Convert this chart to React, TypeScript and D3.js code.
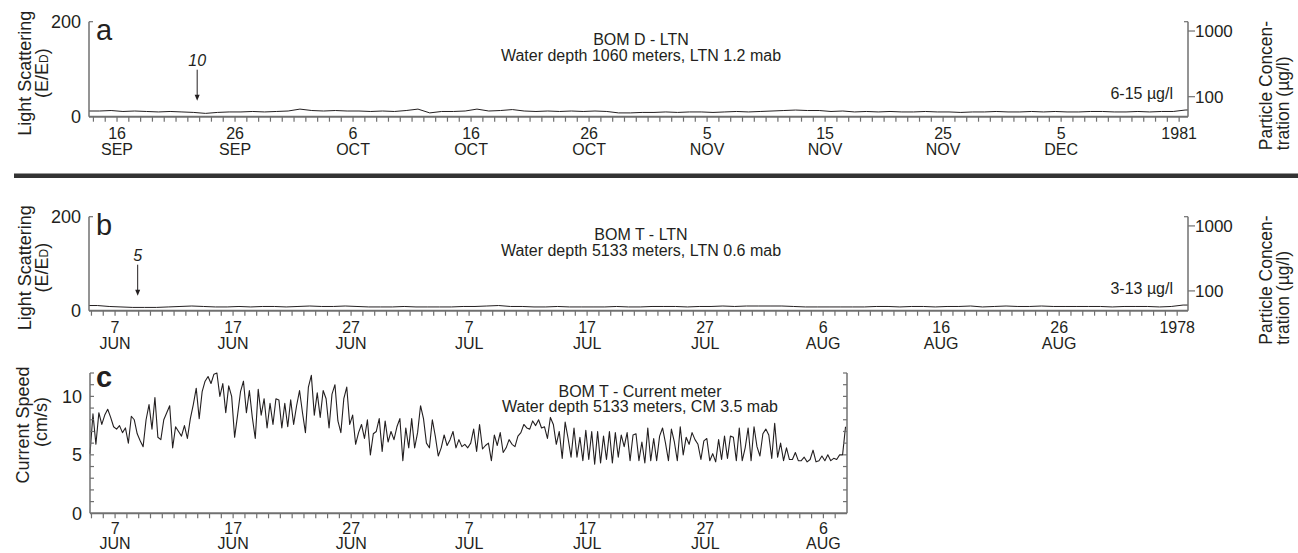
import { useEffect, useRef } from "react";
import * as d3 from "d3";

// BOM D light scattering, one value per day from 13 Sep to 16 Dec 1980 (E/ED)
const bomDFirstDay = "1980-09-13";
const bomDLight = [
  12, 12, 13, 11, 12, 11, 10, 11, 10, 9, 7, 9, 10, 10, 11, 10, 11, 12,
  16, 13, 12, 13, 12, 12, 11, 12, 11, 13, 16, 8, 11, 11, 12, 16, 12, 13, 15, 12, 11, 12, 11, 12, 11, 12, 11, 8, 8, 9, 9,
  10, 9, 10, 10, 9, 10, 11, 10, 11, 12, 13, 14, 13, 13, 11, 12, 10, 11, 10, 11, 10, 10, 11, 10, 10, 9, 10, 10, 11, 10,
  10, 11, 10, 11, 10, 10, 11, 11, 10, 10, 11, 10, 11, 11, 14, 15,
];

// BOM T light scattering, one value per day from 4 Jun to 6 Sep 1978
const bomTFirstDay = "1978-06-04";
const bomTLight = [
  11, 11, 9, 8, 7, 7, 7, 8, 9, 10, 9, 8, 8, 9, 8, 9, 9, 8, 9, 10, 9, 9, 10, 9, 8, 8, 8,
  9, 8, 8, 8, 8, 9, 9, 10, 11, 9, 9, 8, 8, 9, 8, 8, 8, 8, 9, 8, 8, 9, 9, 9, 8, 9, 9, 10, 9, 10, 10,
  10, 10, 9, 8, 8, 8, 8, 8, 8, 9, 9, 8, 9, 9, 8, 9, 9, 10, 8, 9, 10, 9, 9, 10, 9, 9, 9, 9, 9, 8, 9,
  9, 9, 8, 9, 12, 12,
];

// BOM T current speed (cm/s), one reading every 6 hours from 4 Jun 1978 21:00
const currentStart = "1978-06-04T21:00:00Z";
const currentSpeed = [
  5.1, 8.5, 5.9, 8.6, 7.6, 8.4, 8.9, 8.2, 7.4, 7.2, 7.5, 6.9, 7.3, 6.0, 8.3, 8.0,
  6.8, 6.2, 5.7, 8.0, 9.3, 7.2, 9.9, 6.5, 6.3, 8.0, 8.6, 9.2, 5.6, 7.4, 7.0, 6.6,
  7.5, 6.4, 8.1, 9.3, 10.7, 8.1, 10.4, 11.3, 11.7, 11.1, 11.9, 12.0, 10.0, 11.1, 8.6, 10.9,
  10.0, 6.5, 8.4, 10.4, 11.3, 8.6, 10.5, 8.2, 6.4, 10.6, 8.4, 9.8, 7.3, 9.4, 7.6, 9.8,
  9.7, 7.3, 9.4, 7.4, 9.7, 7.6, 9.2, 10.5, 8.6, 6.9, 10.8, 11.8, 8.4, 10.3, 8.2, 10.5,
  9.8, 7.3, 10.2, 11.0, 7.9, 6.9, 9.8, 10.8, 7.6, 8.4, 5.9, 6.9, 7.6, 6.4, 8.0, 5.0,
  6.8, 7.0, 8.1, 5.3, 7.9, 6.1, 7.0, 6.3, 7.4, 8.1, 4.5, 7.3, 5.6, 8.1, 5.6, 6.9,
  9.2, 8.1, 6.0, 5.6, 8.0, 6.6, 4.9, 5.6, 6.7, 5.8, 6.3, 7.0, 5.6, 6.3, 5.7, 5.9, 5.6,
  6.0, 7.2, 5.3, 7.6, 5.5, 5.8, 6.0, 4.5, 6.7, 5.8, 6.9, 5.2, 5.6, 6.3, 5.9, 5.7,
  6.6, 6.9, 7.6, 7.3, 7.2, 7.9, 7.5, 8.0, 7.3, 7.4, 6.4, 8.2, 7.6, 5.9, 7.0, 4.7,
  7.8, 6.4, 4.8, 7.3, 4.8, 6.5, 4.5, 7.1, 4.6, 7.0, 4.2, 7.0, 4.3, 6.6, 4.6, 7.0,
  4.3, 6.9, 4.8, 6.7, 5.7, 6.9, 4.5, 6.7, 6.8, 4.5, 6.1, 4.3, 7.3, 4.5, 6.4, 4.5,
  6.6, 7.3, 6.0, 4.5, 7.2, 6.1, 4.5, 7.4, 5.0, 6.5, 5.9, 6.9, 6.3, 5.9, 4.6, 6.2,
  6.4, 4.5, 5.1, 4.4, 6.3, 4.6, 6.6, 4.7, 6.6, 6.5, 4.5, 7.3, 4.5, 5.6, 7.3, 4.5,
  7.4, 5.7, 4.9, 6.8, 7.2, 6.7, 4.7, 7.7, 4.8, 6.0, 4.5, 5.6, 4.6, 4.6, 5.2, 4.5,
  4.5, 4.8, 4.4, 4.6, 5.4, 4.4, 4.5, 4.9, 4.5, 5.0, 4.5, 4.7, 4.6, 5.0, 5.0, 7.4,
];

// date tick labels: [date, day, month]
const bomDTicks = [
  ["1980-09-16", "16", "SEP"], ["1980-09-26", "26", "SEP"], ["1980-10-06", "6", "OCT"],
  ["1980-10-16", "16", "OCT"], ["1980-10-26", "26", "OCT"], ["1980-11-05", "5", "NOV"],
  ["1980-11-15", "15", "NOV"], ["1980-11-25", "25", "NOV"], ["1980-12-05", "5", "DEC"],
  ["1980-12-15", "1981", ""],
];
const bomTTicks = [
  ["1978-06-07", "7", "JUN"], ["1978-06-17", "17", "JUN"], ["1978-06-27", "27", "JUN"],
  ["1978-07-07", "7", "JUL"], ["1978-07-17", "17", "JUL"], ["1978-07-27", "27", "JUL"],
  ["1978-08-06", "6", "AUG"], ["1978-08-16", "16", "AUG"], ["1978-08-26", "26", "AUG"],
  ["1978-09-05", "1978", ""],
];
const currentTicks = bomTTicks.slice(0, 7);

const concTicks = [1000, 100];
const speedLabels = [0, 5, 10];

const font = "'Liberation Sans', Arial, Helvetica, sans-serif";
const ink = "#231f20";
const gray = "#707070";

function dateAxis(g, x, y0, labels, dayOff, monthOff) {
  const [d0, d1] = x.domain();
  g.append("line")
    .attr("x1", x.range()[0]).attr("x2", x.range()[1])
    .attr("y1", y0).attr("y2", y0)
    .attr("stroke", gray).attr("stroke-width", 2);
  g.selectAll(null)
    .data(d3.utcDay.range(d3.utcDay.ceil(d0), d1))
    .join("line")
    .attr("x1", (d) => x(d)).attr("x2", (d) => x(d))
    .attr("y1", y0).attr("y2", y0 + 5)
    .attr("stroke", gray).attr("stroke-width", 1.2);
  const t = g.selectAll(null)
    .data(labels)
    .join("text")
    .attr("text-anchor", "middle")
    .attr("fill", ink)
    .style("font-size", "16px");
  t.append("tspan").attr("x", (d) => x(new Date(d[0]))).attr("y", y0 + dayOff).text((d) => d[1]);
  t.append("tspan").attr("x", (d) => x(new Date(d[0]))).attr("y", y0 + monthOff).text((d) => d[2]);
}

function ltnPanel(svg, p) {
  const left = 89;
  const right = 1188;
  const x = d3.scaleUtc().domain([new Date(p.start), new Date(p.end)]).range([left, right]);
  const y = d3.scaleLinear().domain([0, 200]).range([p.bottom, p.top]);
  const yc = d3.scaleLog().domain([49.6, 1386]).range([p.bottom, p.top]);
  const g = svg.append("g");

  g.append("clipPath").attr("id", p.id)
    .append("rect").attr("x", left).attr("y", p.top).attr("width", right - left).attr("height", p.bottom - p.top);

  const pts = p.values.map((v, i) => ({ t: d3.utcHour.offset(new Date(p.firstDay), 12 + 24 * i), v }));
  g.append("path")
    .datum(pts)
    .attr("clip-path", `url(#${p.id})`)
    .attr("fill", "none")
    .attr("stroke", ink)
    .attr("stroke-width", 1)
    .attr("d", d3.line().x((d) => x(d.t)).y((d) => y(d.v)));

  dateAxis(g, x, p.bottom, p.ticks, 22, 38);

  // left axis
  g.append("line").attr("x1", left).attr("x2", left).attr("y1", p.top).attr("y2", p.bottom)
    .attr("stroke", gray).attr("stroke-width", 1.5);
  g.append("line").attr("x1", left).attr("x2", left + 4).attr("y1", p.top).attr("y2", p.top)
    .attr("stroke", gray).attr("stroke-width", 1.2);
  g.selectAll(null).data(y.domain()).join("text")
    .attr("x", left - 8).attr("y", (d) => y(d) + 6.5)
    .attr("text-anchor", "end").attr("fill", ink).style("font-size", "18px")
    .text((d) => d);

  // right axis, particle concentration
  g.append("line").attr("x1", right).attr("x2", right).attr("y1", p.top).attr("y2", p.bottom)
    .attr("stroke", gray).attr("stroke-width", 1.5);
  g.append("line").attr("x1", right - 4).attr("x2", right).attr("y1", p.top).attr("y2", p.top)
    .attr("stroke", gray).attr("stroke-width", 1.2);
  g.selectAll(null).data(concTicks).join("line")
    .attr("x1", right).attr("x2", right + 7).attr("y1", (d) => yc(d)).attr("y2", (d) => yc(d))
    .attr("stroke", gray).attr("stroke-width", 1.2);
  g.selectAll(null).data(concTicks).join("text")
    .attr("x", right + 7).attr("y", (d) => yc(d) + 6)
    .attr("fill", ink).style("font-size", "17px")
    .text((d) => d);

  const mid = (p.top + p.bottom) / 2;
  g.append("text")
    .attr("transform", `translate(31,${mid + 4}) rotate(-90)`)
    .attr("text-anchor", "middle").attr("fill", ink).style("font-size", "18px")
    .text("Light Scattering");
  const eu = g.append("text")
    .attr("transform", `translate(48,${mid + 4}) rotate(-90)`)
    .attr("text-anchor", "middle").attr("fill", ink).style("font-size", "18px");
  eu.append("tspan").text("(E/E");
  eu.append("tspan").style("font-size", "12px").text("D");
  eu.append("tspan").text(")");

  g.append("text")
    .attr("transform", `translate(1272,${mid + 81}) rotate(-90)`)
    .attr("fill", ink).style("font-size", "17.5px")
    .text("Particle Concen-");
  g.append("text")
    .attr("transform", `translate(1289,${mid + 81}) rotate(-90)`)
    .attr("fill", ink).style("font-size", "17.5px")
    .text("tration (µg/l)");

  g.append("text").attr("x", 96).attr("y", p.top + 18.5)
    .attr("fill", ink).style("font-size", "29px").text(p.letter);

  const title = g.append("text").attr("text-anchor", "middle").attr("fill", ink).style("font-size", "16px");
  title.append("tspan").attr("x", 641).attr("y", p.top + 23.5).text(p.title);
  title.append("tspan").attr("x", 641).attr("y", p.top + 39).text(p.subtitle);

  g.append("text").attr("x", 1173).attr("y", p.top + 77)
    .attr("text-anchor", "end").attr("fill", ink).style("font-size", "16px")
    .text(p.range);

  // event arrow
  const ax = x(new Date(p.arrow[0]));
  g.append("text").attr("x", ax).attr("y", p.top + 44)
    .attr("text-anchor", "middle").attr("fill", ink)
    .style("font-size", "16px").style("font-style", "italic")
    .text(p.arrow[1]);
  g.append("line").attr("x1", ax).attr("x2", ax).attr("y1", p.top + 48).attr("y2", p.top + 74)
    .attr("stroke", ink).attr("stroke-width", 1);
  g.append("path")
    .attr("d", `M${ax - 2.5},${p.top + 73} L${ax + 2.5},${p.top + 73} L${ax},${p.top + 79} Z`)
    .attr("fill", ink);
}

function currentPanel(svg) {
  const left = 90;
  const right = 847;
  const top = 373;
  const bottom = 513.3;
  const x = d3.scaleUtc()
    .domain([new Date("1978-06-04T21:00:00Z"), new Date("1978-08-08T00:00:00Z")])
    .range([left, right]);
  const y = d3.scaleLinear().domain([0, 12]).range([bottom, top]);
  const g = svg.append("g");

  const pts = currentSpeed.map((v, i) => ({ t: d3.utcHour.offset(new Date(currentStart), 6 * i), v }));
  g.append("path")
    .datum(pts)
    .attr("fill", "none")
    .attr("stroke", ink)
    .attr("stroke-width", 1.1)
    .attr("stroke-linejoin", "round")
    .attr("d", d3.line().x((d) => x(d.t)).y((d) => y(d.v)));

  dateAxis(g, x, bottom, currentTicks, 20.5, 35.5);

  [left, right].forEach((ax) => {
    g.append("line").attr("x1", ax).attr("x2", ax).attr("y1", top).attr("y2", bottom)
      .attr("stroke", gray).attr("stroke-width", 1.5);
    const dir = ax === left ? 1 : -1;
    g.selectAll(null).data(d3.range(1, 13)).join("line")
      .attr("x1", ax).attr("x2", ax + dir * 4)
      .attr("y1", (d) => y(d)).attr("y2", (d) => y(d))
      .attr("stroke", gray).attr("stroke-width", 1.2);
  });
  g.selectAll(null).data(speedLabels).join("text")
    .attr("x", left - 8).attr("y", (d) => y(d) + 6.5)
    .attr("text-anchor", "end").attr("fill", ink).style("font-size", "18px")
    .text((d) => d);

  g.append("text")
    .attr("transform", `translate(29,425) rotate(-90)`)
    .attr("text-anchor", "middle").attr("fill", ink).style("font-size", "18px")
    .text("Current Speed");
  g.append("text")
    .attr("transform", `translate(47,422) rotate(-90)`)
    .attr("text-anchor", "middle").attr("fill", ink).style("font-size", "18px")
    .text("(cm/s)");

  g.append("text").attr("x", 96).attr("y", 387)
    .attr("fill", ink).style("font-size", "29px").style("font-weight", "bold").text("c");

  const title = g.append("text").attr("text-anchor", "middle").attr("fill", ink).style("font-size", "16px");
  title.append("tspan").attr("x", 640).attr("y", 396.5).text("BOM T - Current meter");
  title.append("tspan").attr("x", 640).attr("y", 412).text("Water depth 5133 meters, CM 3.5 mab");
}

export default function App() {
  const ref = useRef(null);

  useEffect(() => {
    const svg = d3.select(ref.current);
    svg.selectAll("*").remove();
    svg.style("font-family", font);

    ltnPanel(svg, {
      id: "clipA",
      start: "1980-09-13T15:00:00Z",
      end: "1980-12-15T18:00:00Z",
      firstDay: bomDFirstDay,
      values: bomDLight,
      top: 21.7,
      bottom: 116.7,
      ticks: bomDTicks,
      letter: "a",
      title: "BOM D - LTN",
      subtitle: "Water depth 1060 meters, LTN 1.2 mab",
      range: "6-15 µg/l",
      arrow: ["1980-09-22T19:00:00Z", "10"],
    });

    svg.append("line")
      .attr("x1", 14).attr("x2", 1298).attr("y1", 175.7).attr("y2", 175.7)
      .attr("stroke", "#333").attr("stroke-width", 4.5);

    ltnPanel(svg, {
      id: "clipB",
      start: "1978-06-04T19:00:00Z",
      end: "1978-09-05T22:00:00Z",
      firstDay: bomTFirstDay,
      values: bomTLight,
      top: 216.7,
      bottom: 310.7,
      ticks: bomTTicks,
      letter: "b",
      title: "BOM T - LTN",
      subtitle: "Water depth 5133 meters, LTN 0.6 mab",
      range: "3-13 µg/l",
      arrow: ["1978-06-08T22:00:00Z", "5"],
    });

    currentPanel(svg);
  }, []);

  return (
    <svg
      ref={ref}
      width={1298}
      height={553}
      style={{ position: "absolute", left: 0, top: 0, background: "#fff" }}
    />
  );
}
